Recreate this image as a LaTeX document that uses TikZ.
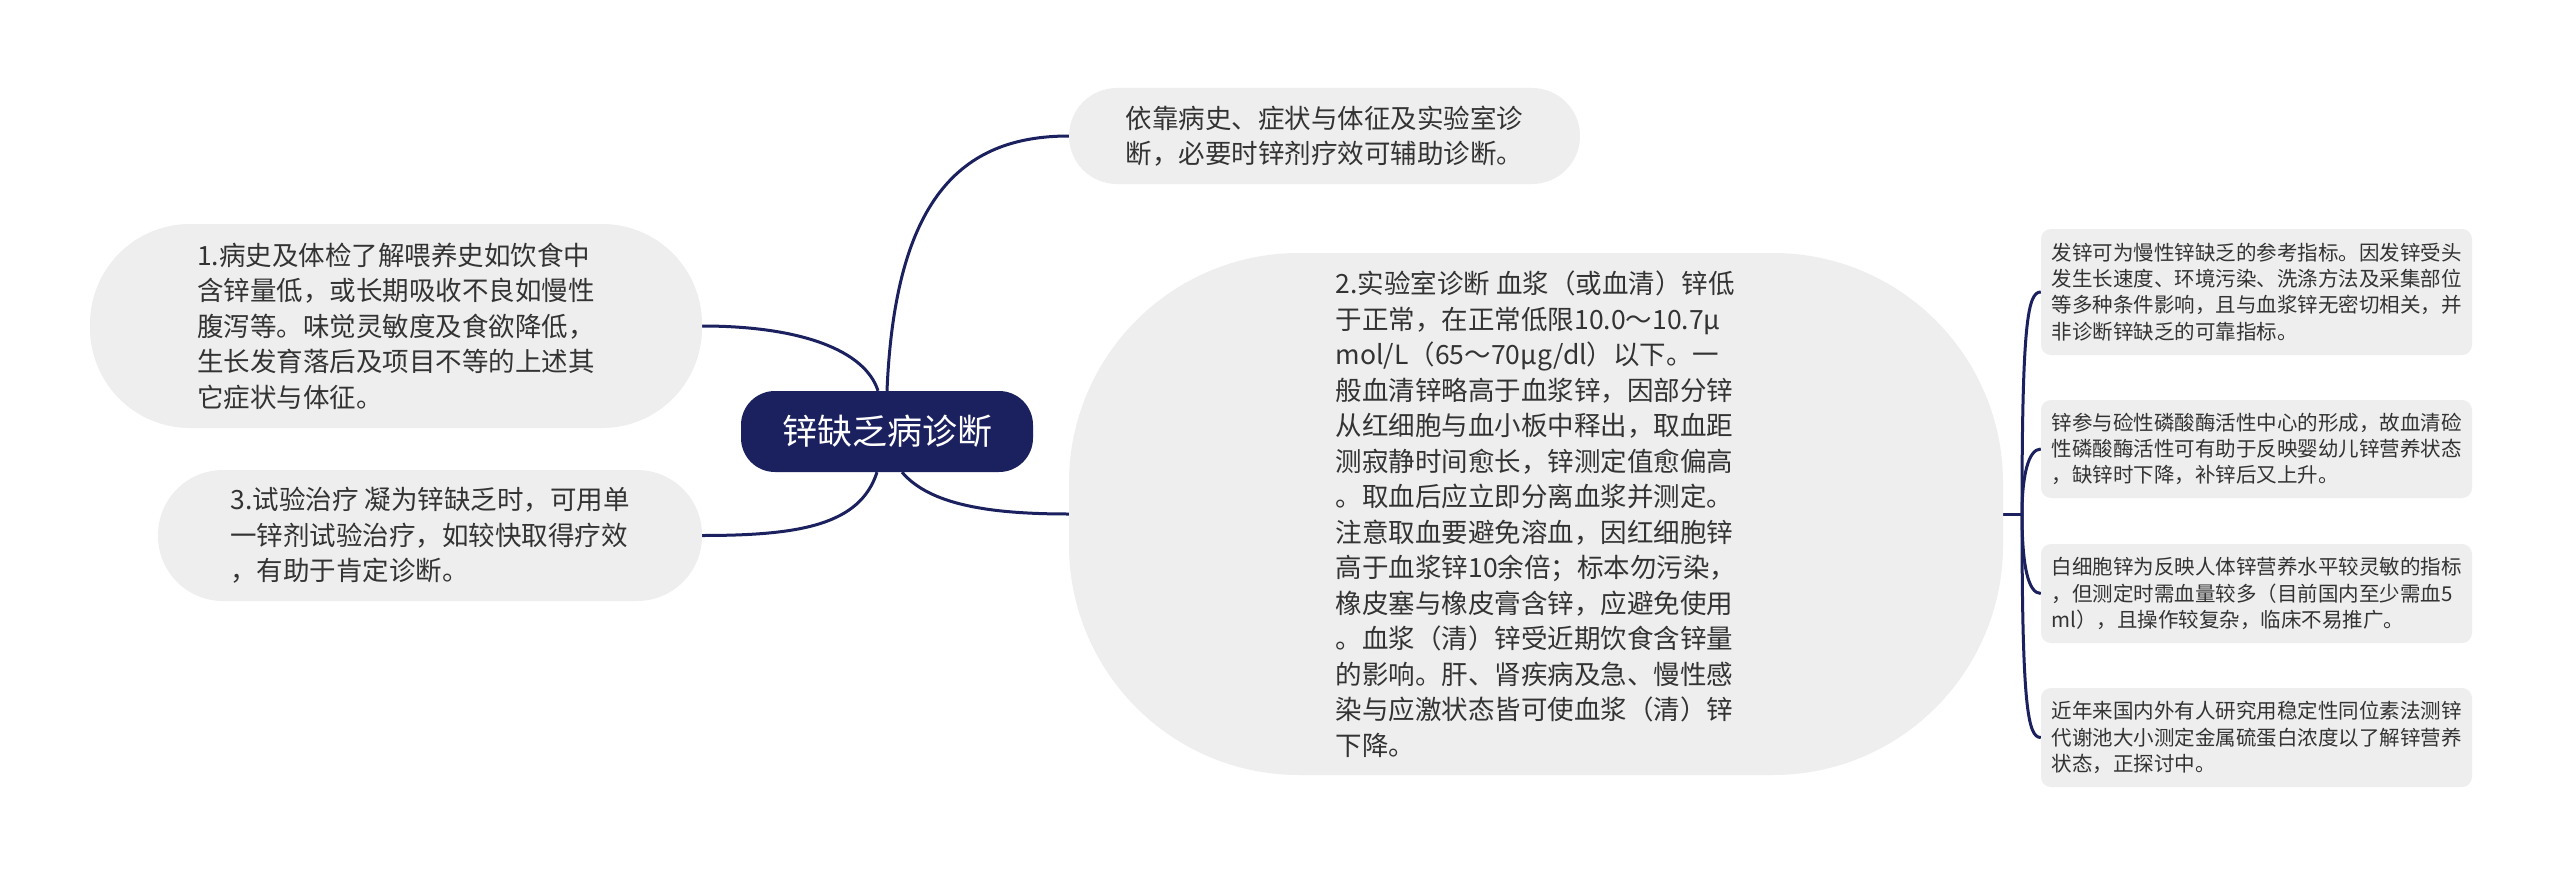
\documentclass[tikz,border=0pt]{standalone}
\usepackage{fontspec}
\setmainfont{Noto Sans CJK SC}
\usetikzlibrary{backgrounds}
\definecolor{navy}{HTML}{1B205F}
\definecolor{bubble}{HTML}{EEEEEE}
\definecolor{ink}{HTML}{333333}
\tikzset{
  conn/.style={draw=navy, line width=3pt},
  rootbox/.style={fill=navy, text=white, inner sep=0pt, align=center,
    minimum width=292pt, minimum height=81pt, rounded corners=34pt,
    font=\fontsize{35}{42}\selectfont},
  bigbubble/.style={fill=bubble, text=ink, inner sep=0pt, align=left,
    font=\fontsize{26.5}{35.5}\selectfont},
  leafbox/.style={fill=bubble, text=ink, inner sep=0pt, align=left,
    minimum width=431pt, rounded corners=10pt,
    font=\fontsize{20.5}{26.3}\selectfont}
}
\begin{document}
\begin{tikzpicture}[x=1pt, y=-1pt]
\useasboundingbox (0,0) rectangle (2560,875);

\node[rootbox] (root) at (887,431.5) {锌缺乏病诊断};

\node[bigbubble, minimum width=511pt, minimum height=96pt, rounded corners=48pt] (top) at (1324.5,136)
{依靠病史、症状与体征及实验室诊\\断，必要时锌剂疗效可辅助诊断。};

\node[bigbubble, minimum width=612pt, minimum height=204pt, rounded corners=100pt] (n1) at (396,326)
{1.病史及体检了解喂养史如饮食中\\含锌量低，或长期吸收不良如慢性\\腹泻等。味觉灵敏度及食欲降低，\\生长发育落后及项目不等的上述其\\它症状与体征。};

\node[bigbubble, minimum width=544pt, minimum height=131pt, rounded corners=65pt] (n3) at (430,535.5)
{3.试验治疗 凝为锌缺乏时，可用单\\一锌剂试验治疗，如较快取得疗效\\，有助于肯定诊断。};

\node[bigbubble, minimum width=934pt, minimum height=522pt, rounded corners=230pt] (big) at (1536,514)
{2.实验室诊断 血浆（或血清）锌低\\于正常，在正常低限10.0～10.7μ\\mol/L（65～70μg/dl）以下。一\\般血清锌略高于血浆锌，因部分锌\\从红细胞与血小板中释出，取血距\\测寂静时间愈长，锌测定值愈偏高\\。取血后应立即分离血浆并测定。\\注意取血要避免溶血，因红细胞锌\\高于血浆锌10余倍；标本勿污染，\\橡皮塞与橡皮膏含锌，应避免使用\\。血浆（清）锌受近期饮食含锌量\\的影响。肝、肾疾病及急、慢性感\\染与应激状态皆可使血浆（清）锌\\下降。};

\node[leafbox, minimum height=126pt] (l1) at (2256.5,292)
{发锌可为慢性锌缺乏的参考指标。因发锌受头\\发生长速度、环境污染、洗涤方法及采集部位\\等多种条件影响，且与血浆锌无密切相关，并\\非诊断锌缺乏的可靠指标。};

\node[leafbox, minimum height=98pt] (l2) at (2256.5,449)
{锌参与硷性磷酸酶活性中心的形成，故血清硷\\性磷酸酶活性可有助于反映婴幼儿锌营养状态\\，缺锌时下降，补锌后又上升。};

\node[leafbox, minimum height=99pt] (l3) at (2256.5,593.5)
{白细胞锌为反映人体锌营养水平较灵敏的指标\\，但测定时需血量较多（目前国内至少需血5\\ml），且操作较复杂，临床不易推广。};

\node[leafbox, minimum height=99pt] (l4) at (2256.5,737.5)
{近年来国内外有人研究用稳定性同位素法测锌\\代谢池大小测定金属硫蛋白浓度以了解锌营养\\状态，正探讨中。};

\coordinate (hub) at (2022,514);

\begin{scope}[on background layer]
\fill[white] (0,0) rectangle (2560,875);
\draw[conn] (root.north) .. controls (895,200) and (960,136) .. (top.west);
\draw[conn] ([xshift=-9pt]root.north) .. controls (865,350) and (800,326) .. (n1.east);
\draw[conn] ([xshift=-10pt]root.south) .. controls (860,525) and (800,535.5) .. (n3.east);
\draw[conn] ([xshift=15pt]root.south) .. controls (930,505) and (990,514) .. (big.west);
\draw[conn] (big.east) -- (hub);
\draw[conn] (hub) .. controls (2022,320) and (2028,292) .. (l1.west);
\draw[conn] (hub) .. controls (2022,477) and (2028,449) .. (l2.west);
\draw[conn] (hub) .. controls (2022,565) and (2028,593.5) .. (l3.west);
\draw[conn] (hub) .. controls (2022,709) and (2028,737.5) .. (l4.west);
\end{scope}
\end{tikzpicture}
\end{document}
